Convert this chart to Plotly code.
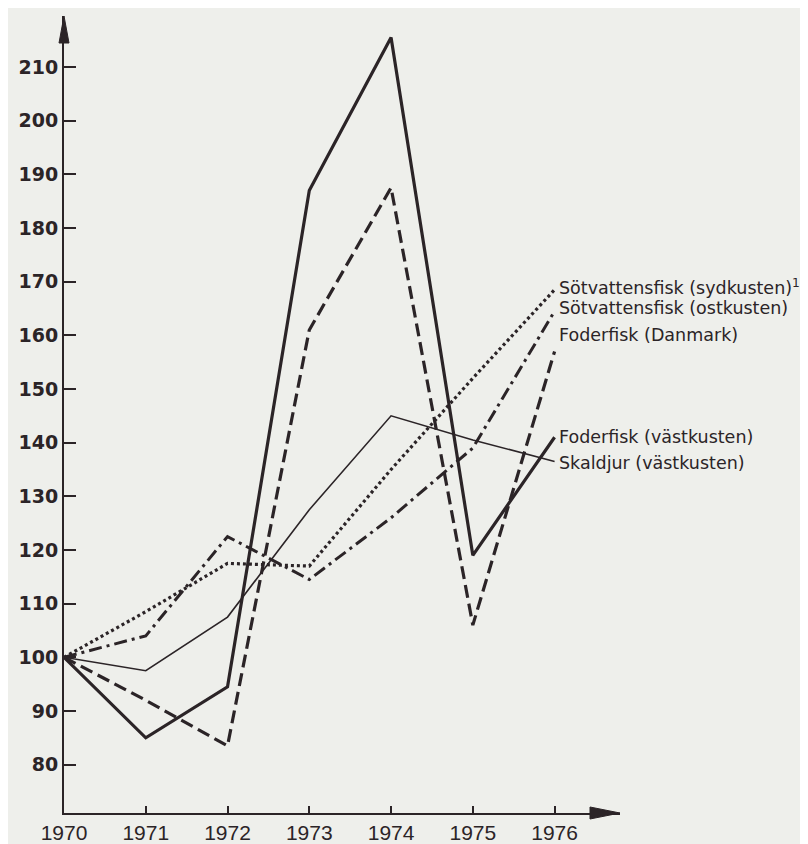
import plotly.graph_objects as go

# ---- data ----
years = [1970, 1971, 1972, 1973, 1974, 1975, 1976]
foderfisk_vastkusten = [100, 85, 94.5, 187, 215.5, 119, 141]
foderfisk_danmark = [100, 92, 83.5, 161, 187.5, 106, 157]
sotvatten_sydkusten = [100, 108.5, 117.5, 117, 135, 152, 168.5]
sotvatten_ostkusten = [100, 104, 122.5, 114.5, 126, 139, 164.5]
skaldjur_vastkusten = [100, 97.5, 107.5, 127.5, 145, 140.5, 136.5]

y_ticks = [80, 90, 100, 110, 120, 130, 140, 150, 160, 170, 180, 190, 200, 210]
x_ticks = years

labels = [
    "Sötvattensfisk (sydkusten)<sup>1</sup>",
    "Sötvattensfisk (ostkusten)",
    "Foderfisk (Danmark)",
    "Foderfisk (västkusten)",
    "Skaldjur (västkusten)",
]

INK = "#2b2427"
BG = "#eeefeb"

series = [
    (sotvatten_sydkusten, dict(width=3.2, dash="3px,3px"), 3),
    (sotvatten_ostkusten, dict(width=3.0, dash="13px,5px,3px,5px"), 3),
    (foderfisk_danmark, dict(width=3.2, dash="13px,6px"), 16),
    (foderfisk_vastkusten, dict(width=3.2, dash="solid"), 0),
    (skaldjur_vastkusten, dict(width=1.6, dash="solid"), -2),
]

fig = go.Figure()
for vals, style, _ in series:
    fig.add_trace(go.Scatter(x=years, y=vals, mode="lines",
                             line=dict(color=INK, **style),
                             showlegend=False, hoverinfo="skip"))

annotations = []
for (vals, _, shift), text in zip(series, labels):
    annotations.append(dict(x=years[-1], y=vals[-1], xref="x", yref="y",
                            text=text, showarrow=False, xanchor="left",
                            yanchor="middle", xshift=2, yshift=shift,
                            font=dict(family="DejaVu Sans", size=17.5, color=INK)))

shapes = [
    # x-axis arrowhead
    dict(type="path", xref="paper", yref="paper", xsizemode="pixel", ysizemode="pixel",
         xanchor=1, yanchor=0, path="M 0,0 L -30,6 L -30,-6 Z",
         fillcolor=INK, line=dict(color=INK, width=1)),
    # y-axis arrowhead
    dict(type="path", xref="paper", yref="paper", xsizemode="pixel", ysizemode="pixel",
         xanchor=0, yanchor=1, path="M 0,0 L -5,-27 L 5,-27 Z",
         fillcolor=INK, line=dict(color=INK, width=1)),
]

fig.update_layout(
    width=808, height=844,
    margin=dict(l=56, r=196, t=8, b=28),
    paper_bgcolor=BG, plot_bgcolor=BG,
    annotations=annotations, shapes=shapes,
    xaxis=dict(range=[1970, 1976.8], tickvals=x_ticks, ticktext=[str(v) for v in x_ticks],
               ticks="inside", ticklen=7, tickwidth=1.5, tickcolor=INK,
               showline=True, linecolor=INK, linewidth=2, showgrid=False, zeroline=False,
               tickfont=dict(family="Liberation Sans", size=21, color=INK)),
    yaxis=dict(range=[70.99, 219.5], tickvals=y_ticks, ticktext=[str(v) for v in y_ticks],
               ticks="inside", ticklen=12, tickwidth=1.5, tickcolor=INK,
               showline=True, linecolor=INK, linewidth=2, showgrid=False, zeroline=False,
               tickfont=dict(family="DejaVu Sans", size=19, color=INK, weight="bold")),
)

fig.write_html("out.html")
